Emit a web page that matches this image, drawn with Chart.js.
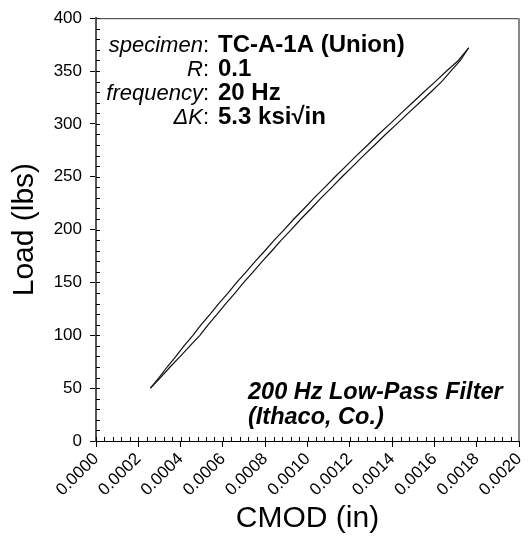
<!DOCTYPE html>
<html>
<head>
<meta charset="utf-8">
<script src="https://cdn.jsdelivr.net/npm/chart.js@4.4.0/dist/chart.umd.min.js"></script>
<style>
  html, body { margin: 0; padding: 0; background: #fff; }
  #wrap { width: 529px; height: 539px; }
</style>
</head>
<body>
<div id="wrap"><canvas id="grafica"></canvas></div>
<script>
// load steps along one cycle (lbs)
const loadLbs = [50, 60, 70, 80, 90, 100, 110, 120, 130, 140, 150, 160, 170, 180, 190, 200,
  210, 220, 230, 240, 250, 260, 270, 280, 290, 300, 310, 320, 330, 340, 350, 360, 372];

// CMOD (in) of the upper branch of the loop
const cmodUpper = [0.0002576, 0.0002980, 0.0003362, 0.0003778, 0.0004161, 0.0004582, 0.0004973,
  0.0005399, 0.0005802, 0.0006238, 0.0006653, 0.0007100, 0.0007527, 0.0007987, 0.0008426,
  0.0008900, 0.0009356, 0.0009843, 0.0010315, 0.0010816, 0.0011304, 0.0011818, 0.0012315,
  0.0012845, 0.0013352, 0.0013896, 0.0014419, 0.0014960, 0.0015489, 0.0016042, 0.0016576,
  0.0017133, 0.0017620];

// CMOD (in) of the lower branch of the loop
const cmodLower = [0.0002576, 0.0003049, 0.0003502, 0.0003984, 0.0004442, 0.0004912, 0.0005308,
  0.0005731, 0.0006136, 0.0006570, 0.0006985, 0.0007431, 0.0007860, 0.0008318, 0.0008759,
  0.0009232, 0.0009688, 0.0010175, 0.0010647, 0.0011148, 0.0011635, 0.0012151, 0.0012647,
  0.0013177, 0.0013685, 0.0014227, 0.0014751, 0.0015293, 0.0015821, 0.0016343, 0.0016775,
  0.0017227, 0.0017620];

const xTicks = [0, 0.0002, 0.0004, 0.0006, 0.0008, 0.0010, 0.0012, 0.0014, 0.0016, 0.0018, 0.0020];
const yTicks = [0, 50, 100, 150, 200, 250, 300, 350, 400];

const testLabels = ['specimen', 'R', 'frequency', '\u0394K'];
const testValues = ['TC-A-1A (Union)', '0.1', '20 Hz', '5.3 ksi\u221Ain'];
const filterNote = ['200 Hz Low-Pass Filter', '(Ithaco, Co.)'];

const FONT = '"Liberation Sans", Arial, sans-serif';

function puntos(cmod) {
  return cmod.map(function (c, i) { return { x: c, y: loadLbs[i] }; });
}

// minor ticks, frame and the text boxes
const extras = {
  id: 'extras',
  afterDraw: function (chart) {
    const ctx = chart.ctx;
    const a = chart.chartArea;
    const x = chart.scales.x;
    const y = chart.scales.y;
    ctx.save();

    ctx.strokeStyle = '#000';
    ctx.lineWidth = 1;
    ctx.beginPath();
    const yStep = (yTicks[1] - yTicks[0]) / 5;
    for (let v = yTicks[0]; v <= yTicks[yTicks.length - 1] + 0.001; v += yStep) {
      const py = Math.round(y.getPixelForValue(v)) + 0.5;
      ctx.moveTo(a.left, py);
      ctx.lineTo(a.left + 4, py);
    }
    const xStep = (xTicks[1] - xTicks[0]) / 5;
    for (let i = 0; i <= (xTicks.length - 1) * 5; i++) {
      const px = Math.round(x.getPixelForValue(i * xStep)) + 0.5;
      ctx.moveTo(px, a.bottom);
      ctx.lineTo(px, a.bottom - 4);
    }
    ctx.stroke();

    // top and right border
    ctx.beginPath();
    ctx.strokeStyle = '#333';
    ctx.moveTo(a.left, a.top + 0.5);
    ctx.lineTo(a.right, a.top + 0.5);
    ctx.stroke();
    ctx.beginPath();
    ctx.strokeStyle = '#888';
    ctx.lineWidth = 2;
    ctx.moveTo(a.right, a.top);
    ctx.lineTo(a.right, a.bottom);
    ctx.stroke();

    // test conditions
    ctx.fillStyle = '#000';
    ctx.textBaseline = 'alphabetic';
    const colonX = a.left + 113;
    for (let i = 0; i < testLabels.length; i++) {
      const by = a.top + 34 + i * 24;
      ctx.font = '22px ' + FONT;
      ctx.textAlign = 'right';
      ctx.fillText(':', colonX, by);
      const cw = ctx.measureText(':').width;
      ctx.font = 'italic 22px ' + FONT;
      ctx.fillText(testLabels[i], colonX - cw, by);
      ctx.font = 'bold 24px ' + FONT;
      ctx.textAlign = 'left';
      ctx.fillText(testValues[i], colonX + 9, by);
    }

    ctx.font = 'italic bold 23.5px ' + FONT;
    ctx.textAlign = 'left';
    ctx.fillText(filterNote[0], a.left + 152, a.top + 381);
    ctx.fillText(filterNote[1], a.left + 152, a.top + 406);
    ctx.restore();
  }
};

const ctx = document.getElementById('grafica').getContext('2d');
const grafica = new Chart(ctx, {
  type: 'scatter',
  data: {
    datasets: [
      { data: puntos(cmodUpper), showLine: true, borderColor: '#111', borderWidth: 1.2, pointRadius: 0, tension: 0 },
      { data: puntos(cmodLower), showLine: true, borderColor: '#111', borderWidth: 1.2, pointRadius: 0, tension: 0 }
    ]
  },
  options: {
    responsive: true,
    maintainAspectRatio: false,
    animation: false,
    layout: { padding: { left: 0, right: 10, top: 14, bottom: 0 } },
    plugins: { legend: { display: false }, tooltip: { enabled: false } },
    scales: {
      x: {
        type: 'linear',
        min: xTicks[0],
        max: xTicks[xTicks.length - 1],
        afterBuildTicks: function (s) { s.ticks = xTicks.map(function (v) { return { value: v }; }); },
        afterFit: function (s) { s.height = 98; s.paddingRight = 0; s.paddingLeft = 0; },
        ticks: {
          autoSkip: false,
          minRotation: 45,
          maxRotation: 45,
          padding: 2,
          color: '#000',
          font: { family: FONT, size: 17 },
          callback: function (v) { return Number(v).toFixed(4); }
        },
        grid: { drawOnChartArea: false, drawTicks: true, tickLength: 6, color: '#000' },
        border: { display: true, color: '#000', width: 1 },
        title: { display: true, text: 'CMOD (in)', color: '#000', font: { family: FONT, size: 30 }, padding: 2 }
      },
      y: {
        min: yTicks[0],
        max: yTicks[yTicks.length - 1],
        afterBuildTicks: function (s) { s.ticks = yTicks.map(function (v) { return { value: v }; }); },
        afterFit: function (s) { s.width = 96; },
        ticks: {
          padding: 8,
          color: '#000',
          font: { family: FONT, size: 17 }
        },
        grid: { drawOnChartArea: false, drawTicks: true, tickLength: 6, color: '#000' },
        border: { display: true, color: '#555', width: 2 },
        title: { display: true, text: 'Load (lbs)', color: '#000', font: { family: FONT, size: 30 }, padding: 7 }
      }
    }
  },
  plugins: [extras]
});
</script>
</body>
</html>
